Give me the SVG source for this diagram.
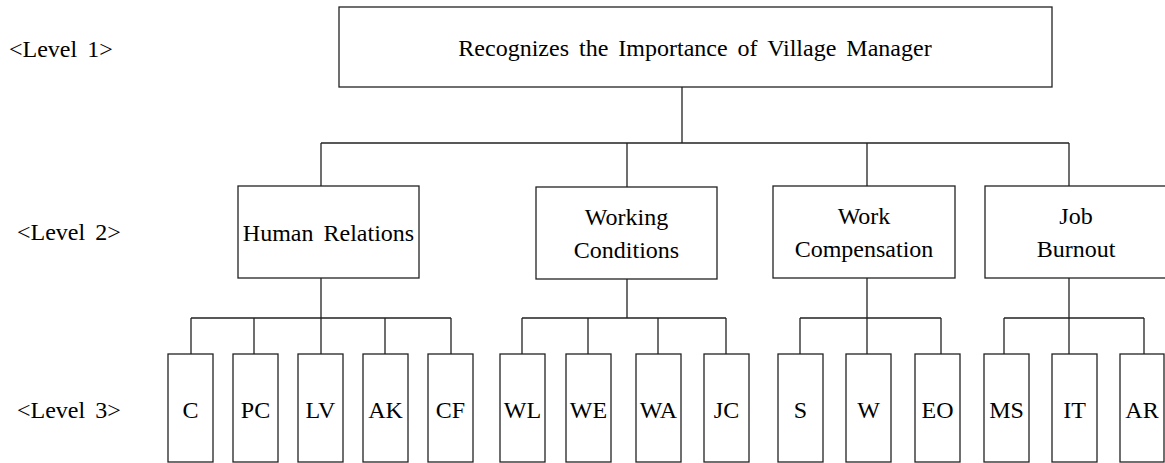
<svg xmlns="http://www.w3.org/2000/svg" width="1165" height="463" viewBox="0 0 1165 463">
<style>
rect { fill: #fff; stroke: #222; stroke-width: 1.3; }
.c path { fill: none; stroke: #222; stroke-width: 1.3; }
text { font-family: 'Liberation Serif', 'Times New Roman', serif; font-size: 24px; fill: #000; word-spacing: 4px; }
.m { text-anchor: middle; }
</style>
<rect x="0" y="0" width="1165" height="463" style="stroke:none"/>
<g id="level-labels">
<text x="9" y="57">&lt;Level 1&gt;</text>
<text x="17" y="240">&lt;Level 2&gt;</text>
<text x="17" y="418">&lt;Level 3&gt;</text>
</g>
<g class="c" id="connectors">
<path d="M682 87V143M321 143H1069M321 143V186M627 143V187M867 143V186M1069 143V186"/>
<path d="M321 278V318M191 318H451M191 318V354M254 318V354M321 318V354M385 318V354M451 318V354"/>
<path d="M627 279V318M522 318H726M522 318V354M588 318V354M658 318V354M726 318V354"/>
<path d="M867 278V318M800 318H941M800 318V354M867 318V354M941 318V354"/>
<path d="M1069 278V318M1004 318H1144M1004 318V354M1069 318V354M1144 318V354"/>
</g>
<g id="root"><rect x="339" y="7" width="713" height="80"/><text class="m" x="695" y="56">Recognizes the Importance of Village Manager</text></g>
<g id="human-relations"><rect x="238" y="186" width="181" height="92"/><text class="m" x="328.5" y="241">Human Relations</text></g>
<g id="working-conditions"><rect x="536" y="187" width="181" height="92"/><text class="m" x="626.5" y="225">Working</text><text class="m" x="626.5" y="258">Conditions</text></g>
<g id="work-compensation"><rect x="773" y="186" width="182" height="92"/><text class="m" x="864" y="224">Work</text><text class="m" x="864" y="257">Compensation</text></g>
<g id="job-burnout"><rect x="985" y="186" width="182" height="92"/><text class="m" x="1076" y="224">Job</text><text class="m" x="1076" y="257">Burnout</text></g>
<g id="C"><rect x="168" y="354" width="45" height="108"/><text class="m" x="190.5" y="418">C</text></g>
<g id="PC"><rect x="233" y="354" width="45" height="108"/><text class="m" x="255.5" y="418">PC</text></g>
<g id="LV"><rect x="298" y="354" width="45" height="108"/><text class="m" x="320.5" y="418">LV</text></g>
<g id="AK"><rect x="363" y="354" width="45" height="108"/><text class="m" x="385.5" y="418">AK</text></g>
<g id="CF"><rect x="428" y="354" width="45" height="108"/><text class="m" x="450.5" y="418">CF</text></g>
<g id="WL"><rect x="500" y="354" width="45" height="108"/><text class="m" x="522.5" y="418">WL</text></g>
<g id="WE"><rect x="566" y="354" width="45" height="108"/><text class="m" x="588.5" y="418">WE</text></g>
<g id="WA"><rect x="636" y="354" width="45" height="108"/><text class="m" x="658.5" y="418">WA</text></g>
<g id="JC"><rect x="704" y="354" width="45" height="108"/><text class="m" x="726.5" y="418">JC</text></g>
<g id="S"><rect x="778" y="354" width="45" height="108"/><text class="m" x="800.5" y="418">S</text></g>
<g id="W"><rect x="846" y="354" width="45" height="108"/><text class="m" x="868.5" y="418">W</text></g>
<g id="EO"><rect x="915" y="354" width="45" height="108"/><text class="m" x="937.5" y="418">EO</text></g>
<g id="MS"><rect x="984" y="354" width="45" height="108"/><text class="m" x="1006.5" y="418">MS</text></g>
<g id="IT"><rect x="1052" y="354" width="45" height="108"/><text class="m" x="1074.5" y="418">IT</text></g>
<g id="AR"><rect x="1120" y="354" width="44" height="108"/><text class="m" x="1142" y="418">AR</text></g>
</svg>
